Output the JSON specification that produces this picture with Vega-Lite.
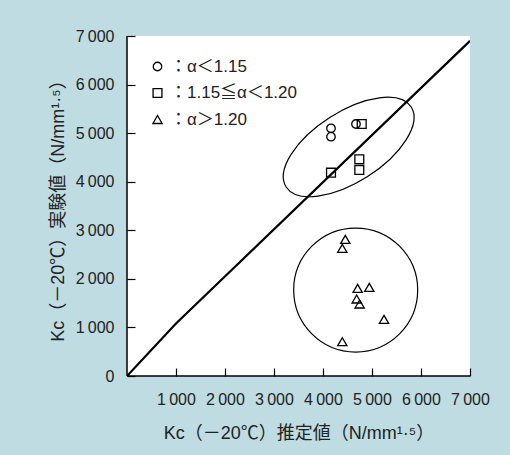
{
  "$schema": "https://vega.github.io/schema/vega-lite/v6.json",
  "width": 343,
  "height": 340,
  "autosize": {"type": "none"},
  "padding": {"left": 127, "top": 36, "right": 40, "bottom": 79},
  "background": "#bedce1",
  "config": {
    "view": {"fill": "white", "stroke": null},
    "font": "Liberation Sans, Noto Sans CJK JP",
    "axis": {
      "grid": false,
      "domain": false,
      "offset": -8,
      "ticks": true,
      "tickColor": "black",
      "tickWidth": 1.2,
      "tickSize": 8,
      "labelFontSize": 16,
      "labelColor": "#222",
      "labelFont": "Liberation Sans",
      "labelOverlap": false,
      "labelFlush": false,
      "titleFontSize": 18,
      "titleFontWeight": "normal",
      "titleColor": "#222",
      "titleFont": "Liberation Sans, Noto Sans CJK JP",
      "labelExpr": "datum.value == 0 ? '0' : floor(datum.value / 1000) + '\u2009000'"
    }
  },
  "datasets": {
    "pts": [
      {"x": 4163, "y": 5100, "group": "α＜1.15"},
      {"x": 4163, "y": 4927, "group": "α＜1.15"},
      {"x": 4673, "y": 5188, "group": "α＜1.15"},
      {"x": 4790, "y": 5188, "group": "1.15≦α＜1.20"},
      {"x": 4163, "y": 4186, "group": "1.15≦α＜1.20"},
      {"x": 4741, "y": 4461, "group": "1.15≦α＜1.20"},
      {"x": 4741, "y": 4241, "group": "1.15≦α＜1.20"},
      {"x": 4455, "y": 2814, "group": "α＞1.20"},
      {"x": 4394, "y": 2629, "group": "α＞1.20"},
      {"x": 4707, "y": 1805, "group": "α＞1.20"},
      {"x": 4945, "y": 1826, "group": "α＞1.20"},
      {"x": 4687, "y": 1585, "group": "α＞1.20"},
      {"x": 4748, "y": 1482, "group": "α＞1.20"},
      {"x": 5245, "y": 1167, "group": "α＞1.20"},
      {"x": 4394, "y": 706, "group": "α＞1.20"}
    ],
    "fit": [
      {"x": 0, "y": 0},
      {"x": 1000, "y": 1080},
      {"x": 7000, "y": 6900}
    ],
    "ell": [{"x": 4524, "y": 4715}],
    "circ": [{"x": 4667, "y": 1770}],
    "origin": [{"x": 0, "y": 0}]
  },
  "layer": [
    {
      "encoding": {
        "x": {
          "field": "x",
          "type": "quantitative",
          "scale": {"domain": [0, 7000], "nice": false, "zero": false},
          "axis": {
            "values": [1000, 2000, 3000, 4000, 5000, 6000, 7000],
            "labelPadding": 15,
            "title": "Kc（－20℃）推定値（N/mm¹·⁵）",
            "titlePadding": 17
          }
        },
        "y": {
          "field": "y",
          "type": "quantitative",
          "scale": {"domain": [0, 7000], "nice": false, "zero": false},
          "axis": {
            "values": [0, 1000, 2000, 3000, 4000, 5000, 6000, 7000],
            "labelPadding": 13,
            "title": "Kc（－20℃）実験値（N/mm¹·⁵）",
            "titlePadding": 8
          }
        }
      },
      "layer": [
        {
          "data": {"name": "fit"},
          "mark": {"type": "line", "color": "black", "strokeWidth": 2.2, "clip": true},
          "encoding": {}
        },
        {
          "data": {"name": "ell"},
          "mark": {
            "type": "point",
            "shape": "M 1 0 C 1 0.2612 0.5523 0.473 0 0.473 C -0.5523 0.473 -1 0.2612 -1 0 C -1 -0.2612 -0.5523 -0.473 0 -0.473 C 0.5523 -0.473 1 -0.2612 1 0 Z",
            "size": 22023,
            "angle": 327.4,
            "filled": false,
            "stroke": "black",
            "strokeWidth": 1.2,
            "opacity": 1
          }
        },
        {
          "data": {"name": "circ"},
          "mark": {
            "type": "point",
            "shape": "circle",
            "size": 15376,
            "filled": false,
            "stroke": "black",
            "strokeWidth": 1.2,
            "opacity": 1
          }
        },
        {
          "data": {"name": "pts"},
          "mark": {"type": "point", "filled": false, "stroke": "black", "strokeWidth": 1.3, "opacity": 1},
          "encoding": {
            "shape": {
              "field": "group",
              "type": "nominal",
              "scale": {"domain": ["α＜1.15", "1.15≦α＜1.20", "α＞1.20"], "range": ["circle", "square", "triangle-up"]},
              "legend": {
                "orient": "top-left",
                "title": null,
                "offset": 22,
                "padding": 0,
                "symbolStrokeWidth": 1.3,
                "symbolStrokeColor": "black",
                "symbolFillColor": "transparent",
                "labelFont": "Liberation Sans, Noto Sans CJK JP",
                "labelFontSize": 17,
                "labelColor": "#222",
                "labelOffset": 4,
                "rowPadding": 8.5,
                "labelExpr": "'：' + datum.label"
              }
            },
            "size": {
              "field": "group",
              "type": "nominal",
              "scale": {"domain": ["α＜1.15", "1.15≦α＜1.20", "α＞1.20"], "range": [72, 85, 125]}
            }
          }
        }
      ]
    },
    {
      "data": {"name": "origin"},
      "mark": {"type": "rule", "color": "black", "strokeWidth": 1.5},
      "encoding": {"y": {"field": "y", "type": "quantitative"}}
    },
    {
      "data": {"name": "origin"},
      "mark": {"type": "rule", "color": "black", "strokeWidth": 1.5},
      "encoding": {"x": {"field": "x", "type": "quantitative"}}
    }
  ]
}
